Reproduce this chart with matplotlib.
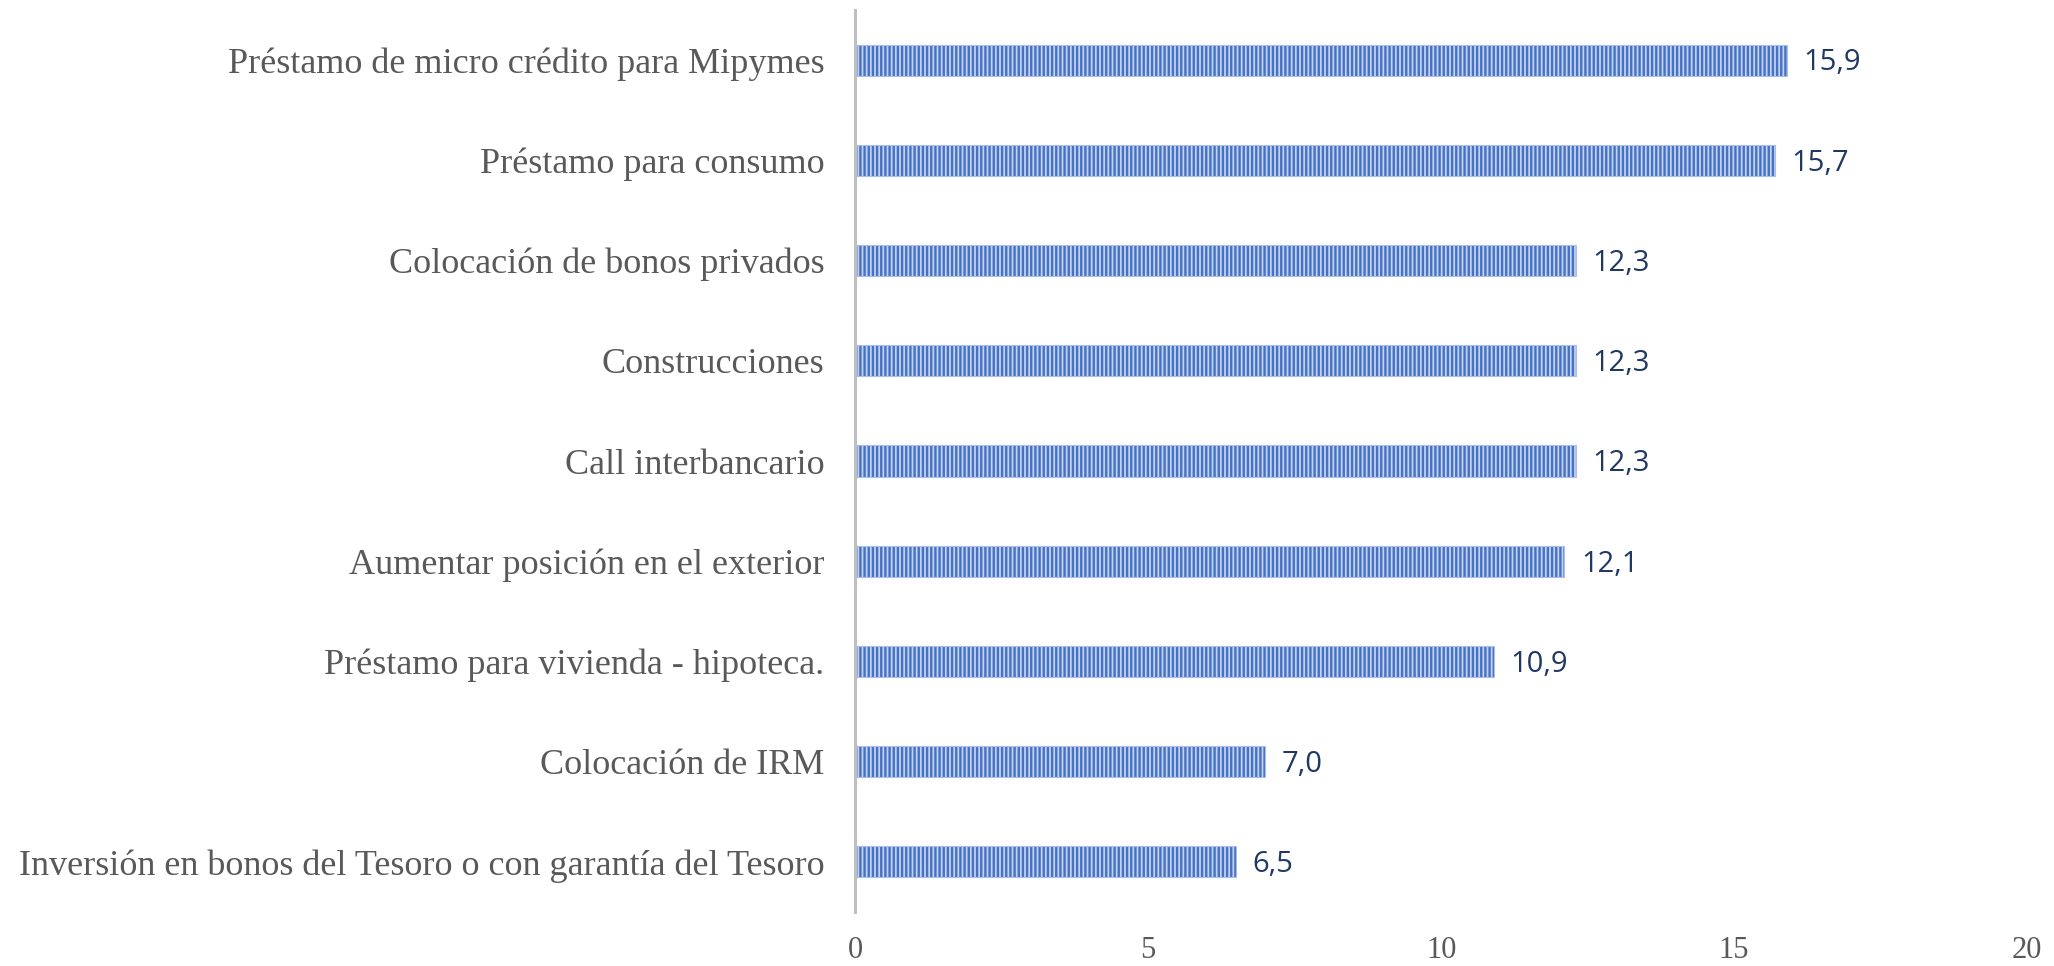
import matplotlib.pyplot as plt
import numpy as np

plt.rcParams['hatch.linewidth'] = 1.7

categories = [
    'Préstamo de micro crédito para Mipymes',
    'Préstamo para consumo',
    'Colocación de bonos privados',
    'Construcciones',
    'Call interbancario',
    'Aumentar posición en el exterior',
    'Préstamo para vivienda - hipoteca.',
    'Colocación de IRM',
    'Inversión en bonos del Tesoro o con garantía del Tesoro',
]
values = [15.9, 15.7, 12.3, 12.3, 12.3, 12.1, 10.9, 7.0, 6.5]
xticks = [0, 5, 10, 15, 20]

fig = plt.figure(figsize=(20.54, 9.66), dpi=100)
ax = fig.add_axes([0.4163, 0.0559, 0.5706, 0.9337])

y = np.arange(len(categories))
# striped fill, then a thin light outline
ax.barh(y, values, height=0.31, color='#C3D1EF', edgecolor='#4472C4',
        hatch='||||', linewidth=0, zorder=2)
ax.barh(y, values, height=0.31, color='none', edgecolor='#A9BEE8',
        linewidth=0.8, zorder=3)

for yi, v in zip(y, values):
    ax.annotate(f'{v:.1f}'.replace('.', ','), (v, yi), xytext=(12, -2),
                textcoords='offset points', va='center', ha='left',
                fontsize=21, color='#1F3864', family='Open Sans')

ax.set_xlim(0, 20)
ax.set_ylim(8.5, -0.5)
ax.set_xticks(xticks)
ax.set_xticklabels([str(t) for t in xticks], family='Liberation Serif',
                   fontsize=22, color='#595959')
ax.set_yticks(y)
ax.set_yticklabels(categories, family='Liberation Serif', fontsize=26,
                   color='#595959')
ax.tick_params(axis='both', length=0)
ax.tick_params(axis='y', pad=22)
ax.tick_params(axis='x', pad=17)

for s in ['top', 'right', 'bottom']:
    ax.spines[s].set_visible(False)
ax.spines['left'].set_color('#BFBFBF')
ax.spines['left'].set_linewidth(2.2)
ax.spines['left'].set_zorder(4)

fig.savefig('out.png', dpi=100)
